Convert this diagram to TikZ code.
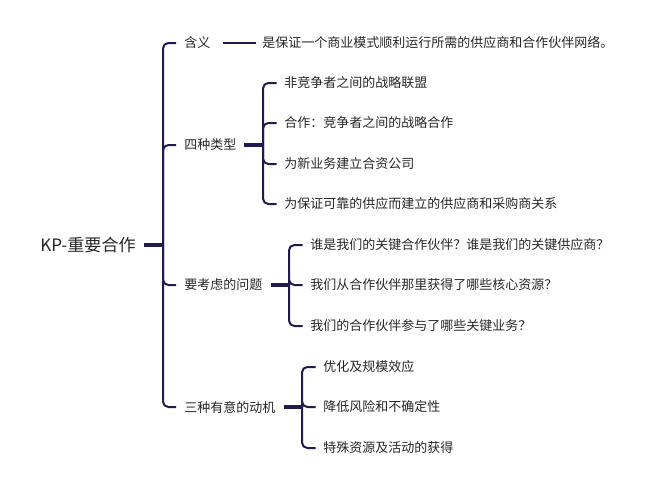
\documentclass[tikz,border=0pt]{standalone}
\usepackage{fontspec}
\setmainfont{Noto Sans CJK SC}
\usetikzlibrary{calc}
\definecolor{ln}{HTML}{1F1A4F}
\definecolor{txt}{HTML}{262626}
\begin{document}
\begin{tikzpicture}[x=0.75pt,y=-0.75pt,
  lbl/.style={anchor=west,inner sep=0pt,font=\fontsize{9.75pt}{12pt}\selectfont,text=txt},
  rootlbl/.style={anchor=west,inner sep=0pt,font=\fontsize{12.8pt}{15pt}\selectfont,text=txt},
  br/.style={draw=ln,line width=1.5pt,rounded corners=4pt},
  stem/.style={draw=ln,line width=2.3pt},
  thinln/.style={draw=ln,line width=1.3pt}]
\useasboundingbox (0,0) rectangle (651,490);
% root
\node[rootlbl] (root) at (40,245) {KP-重要合作};
% level 1
\node[lbl] (l1) at (184,43) {含义};
\node[lbl] (l2) at (184,145) {四种类型};
\node[lbl] (l3) at (184,285) {要考虑的问题};
\node[lbl] (l4) at (184,407) {三种有意的动机};
% definition
\node[lbl] (d1) at (262,43) {是保证一个商业模式顺利运行所需的供应商和合作伙伴网络。};
% four types
\node[lbl] (t1) at (284,83) {非竞争者之间的战略联盟};
\node[lbl] (t2) at (284,123) {合作：竞争者之间的战略合作};
\node[lbl] (t3) at (284,164) {为新业务建立合资公司};
\node[lbl] (t4) at (284,204) {为保证可靠的供应而建立的供应商和采购商关系};
% questions
\node[lbl] (q1) at (310,245) {谁是我们的关键合作伙伴？谁是我们的关键供应商？};
\node[lbl] (q2) at (310,285) {我们从合作伙伴那里获得了哪些核心资源？};
\node[lbl] (q3) at (310,326) {我们的合作伙伴参与了哪些关键业务？};
% motives
\node[lbl] (m1) at (323,367) {优化及规模效应};
\node[lbl] (m2) at (323,407) {降低风险和不确定性};
\node[lbl] (m3) at (323,448) {特殊资源及活动的获得};
% junctions
\coordinate (j0) at (163,245);
\coordinate (j2) at (263,145);
\coordinate (j3) at (289,285);
\coordinate (j4) at (302,407);
% connectors
\draw[stem] ([xshift=6pt]root.east) -- (j0);
\foreach \c in {l1,l2,l3,l4} \draw[br] (j0) |- ([xshift=-6pt]\c.west);
\draw[thinln] ([xshift=9pt]l1.east) -- ([xshift=-4.5pt]d1.west);
\draw[stem] ([xshift=5.5pt]l2.east) -- (j2);
\foreach \c in {t1,t2,t3,t4} \draw[br] (j2) |- ([xshift=-5.5pt]\c.west);
\draw[stem] ([xshift=6pt]l3.east) -- (j3);
\foreach \c in {q1,q2,q3} \draw[br] (j3) |- ([xshift=-5.5pt]\c.west);
\draw[stem] ([xshift=6pt]l4.east) -- (j4);
\foreach \c in {m1,m2,m3} \draw[br] (j4) |- ([xshift=-5.5pt]\c.west);
\end{tikzpicture}
\end{document}
